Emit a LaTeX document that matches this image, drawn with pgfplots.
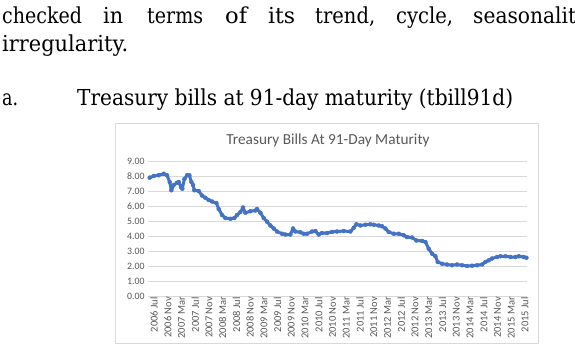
\documentclass[border=0pt]{standalone}
\usepackage{pgfplots}
\pgfplotsset{compat=1.18}
\usepackage{fontspec}
\usepackage{graphicx}
\setmainfont{DejaVu Serif}
\newfontfamily\chartfont{Carlito}
\definecolor{xlblue}{HTML}{4472C4}
\definecolor{xlgrid}{HTML}{D9D9D9}
\definecolor{xltext}{HTML}{595959}
\newcommand{\docfont}{\fontsize{22}{26}\selectfont}
\newcommand{\putword}[4]{\node[anchor=base west, inner sep=0pt, font=\docfont] at (#1pt,-#2pt) {\resizebox{#3pt}{\height}{#4}};}
\begin{document}
\begin{tikzpicture}
\path[fill=white, use as bounding box] (0pt,0pt) rectangle (575pt,-352pt);
% document text
\putword{2}{24}{80}{checked}
\putword{103}{24}{20}{in}
\putword{147}{24}{56}{terms}
\putword{225}{24}{22}{of}
\putword{268}{24}{27}{its}
\putword{315}{24}{60}{trend,}
\putword{396}{24}{57}{cycle,}
\putword{473}{24}{103}{seasonalit}
\putword{2}{52}{126}{irregularity.}
\putword{2}{106}{16}{a.}
\putword{77}{106}{436}{Treasury bills at 91-day maturity (tbill91d)}
% chart frame
\draw[xlgrid, line width=0.8pt] (115pt,-123pt) rectangle (538pt,-343pt);
\node[anchor=base, inner sep=0pt, text=xltext, font=\chartfont\fontsize{15.3}{18}\selectfont] at (328pt,-145pt) {Treasury Bills At 91-Day Maturity};
\begin{axis}[
  at={(148pt,-296pt)}, anchor=south west,
  scale only axis, width=379pt, height=135pt,
  xmin=-1.17, xmax=109.2, ymin=0, ymax=9,
  ytick={0,1,...,9},
  xtick={0,4,...,108},
  xticklabels={2006 Jul,2006 Nov,2007 Mar,2007 Jul,2007 Nov,2008 Mar,2008 Jul,2008 Nov,2009 Mar,2009 Jul,2009 Nov,2010 Mar,2010 Jul,2010 Nov,2011 Mar,2011 Jul,2011 Nov,2012 Mar,2012 Jul,2012 Nov,2013 Mar,2013 Jul,2013 Nov,2014 Mar,2014 Jul,2014 Nov,2015 Mar,2015 Jul},
  xticklabel style={rotate=90, anchor=east, font=\chartfont\fontsize{10.5}{12}\selectfont, text=xltext, inner sep=1pt, yshift=-2pt},
  yticklabel style={font=\chartfont\fontsize{9.8}{11}\selectfont, text=xltext, /pgf/number format/.cd, fixed, fixed zerofill, precision=2, assume math mode=true},
  ymajorgrids, major grid style={xlgrid, line width=0.8pt},
  axis line style={draw=none}, tick style={draw=none},
  clip=false,
]
\addplot[xlblue, line width=3pt, line join=round, line cap=round, mark=*, mark size=2pt, mark options={fill=xlblue, draw=xlblue, line width=0.4pt}] coordinates {
(-0.68,7.89) (0.49,8.0) (1.94,8.05) (3.40,8.15) (4.37,8.05) (5.15,7.6) (5.63,7.05) (6.31,7.4) (7.28,7.55) (7.77,7.6) (8.45,7.25) (8.83,7.15) (9.42,7.8) (10.19,8.05) (10.87,8.05) (11.46,7.6) (11.94,7.4) (12.33,7.05) (13.59,7.0) (14.56,6.7) (15.53,6.55) (16.50,6.4) (17.48,6.3) (18.74,6.2) (19.42,5.8) (20.39,5.4) (21.36,5.2) (22.82,5.15) (23.98,5.2) (24.76,5.4) (25.73,5.6) (26.50,5.9) (27.18,5.55) (28.64,5.65) (30.10,5.7) (30.58,5.8) (31.55,5.55) (32.52,5.2) (33.50,4.95) (34.47,4.7) (35.44,4.5) (36.41,4.3) (37.86,4.15) (38.83,4.1) (40.29,4.1) (41.07,4.5) (41.75,4.3) (43.20,4.25) (44.17,4.15) (45.15,4.15) (46.60,4.3) (47.57,4.33) (48.54,4.1) (49.51,4.2) (50.97,4.2) (52.43,4.27) (53.88,4.3) (55.83,4.33) (57.77,4.3) (58.74,4.55) (59.51,4.78) (60.68,4.7) (62.14,4.75) (63.59,4.78) (64.56,4.75) (66.02,4.7) (66.99,4.65) (67.96,4.5) (68.93,4.27) (70.39,4.15) (71.84,4.15) (73.30,4.05) (74.27,3.93) (75.73,3.9) (76.99,3.7) (78.64,3.67) (79.61,3.6) (80.58,3.15) (81.55,2.82) (82.52,2.65) (83.20,2.27) (84.47,2.15) (85.92,2.1) (87.38,2.05) (88.83,2.1) (90.29,2.05) (91.75,2.0) (93.20,2.02) (94.66,2.05) (96.12,2.1) (97.09,2.27) (98.06,2.38) (99.03,2.5) (100.49,2.6) (101.46,2.65) (102.91,2.65) (104.37,2.6) (105.83,2.6) (106.80,2.65) (108.25,2.6) (109.03,2.55)
};
\end{axis}
\end{tikzpicture}
\end{document}
